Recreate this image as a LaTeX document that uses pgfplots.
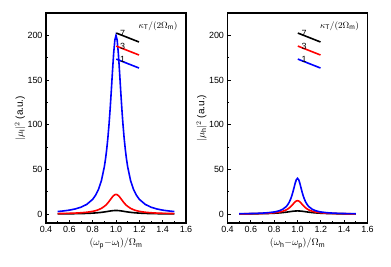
\documentclass[border=0pt]{standalone}
\usepackage{pgfplots}
\usepackage{pgfplotstable}
\usepackage{fontspec}
\setmainfont{Liberation Sans}
\newfontfamily\seriffont{Liberation Serif}
\pgfplotsset{compat=1.18}
\pgfplotstableread{
x lb lr lk rb rr rk
0.50 2.839 0.549 0.218 0.396 0.249 0.191
0.55 3.493 0.674 0.266 0.488 0.307 0.232
0.60 4.401 0.846 0.330 0.615 0.386 0.289
0.65 5.710 1.092 0.421 0.800 0.500 0.368
0.70 7.692 1.461 0.552 1.081 0.673 0.483
0.75 10.89 2.044 0.749 1.538 0.950 0.655
0.80 16.51 3.034 1.059 2.353 1.433 0.926
0.825 21.04 3.803 1.279 3.019 1.818 1.119
0.85 27.59 4.872 1.561 4.000 2.371 1.366
0.875 37.45 6.393 1.918 5.517 3.193 1.679
0.90 52.94 8.585 2.361 8.000 4.455 2.066
0.91 61.54 9.710 2.560 9.434 5.142 2.240
0.92 72.00 11.00 2.769 11.24 5.965 2.423
0.93 84.71 12.46 2.984 13.51 6.945 2.611
0.94 100.0 14.08 3.200 16.39 8.099 2.800
0.95 118.0 15.82 3.408 20.00 9.424 2.982
0.96 138.5 17.60 3.600 24.39 10.88 3.150
0.97 160.0 19.29 3.765 29.41 12.37 3.294
0.98 180.0 20.71 3.892 34.48 13.70 3.405
0.99 194.6 21.66 3.972 38.46 14.65 3.476
1.00 200.0 22.00 4.000 40.00 15.00 3.500
1.01 194.6 21.66 3.972 38.46 14.65 3.476
1.02 180.0 20.71 3.892 34.48 13.70 3.405
1.03 160.0 19.29 3.765 29.41 12.37 3.294
1.04 138.5 17.60 3.600 24.39 10.88 3.150
1.05 118.0 15.82 3.408 20.00 9.424 2.982
1.06 100.0 14.08 3.200 16.39 8.099 2.800
1.07 84.71 12.46 2.984 13.51 6.945 2.611
1.08 72.00 11.00 2.769 11.24 5.965 2.423
1.09 61.54 9.710 2.560 9.434 5.142 2.240
1.10 52.94 8.585 2.361 8.000 4.455 2.066
1.125 37.45 6.393 1.918 5.517 3.193 1.679
1.15 27.59 4.872 1.561 4.000 2.371 1.366
1.175 21.04 3.803 1.279 3.019 1.818 1.119
1.20 16.51 3.034 1.059 2.353 1.433 0.926
1.25 10.89 2.044 0.749 1.538 0.950 0.655
1.30 7.692 1.461 0.552 1.081 0.673 0.483
1.35 5.710 1.092 0.421 0.800 0.500 0.368
1.40 4.401 0.846 0.330 0.615 0.386 0.289
1.45 3.493 0.674 0.266 0.488 0.307 0.232
1.50 2.839 0.549 0.218 0.396 0.249 0.191
}\data
\definecolor{cblue}{RGB}{0,0,255}
\definecolor{cred}{RGB}{255,0,0}
\tikzset{legtxt/.style={anchor=west, inner sep=0pt, xshift=3bp, text=black, font=\fontsize{9}{10}\selectfont}}
\pgfplotsset{
  myax/.style={
    scale only axis, width=140bp, height=210bp,
    anchor=south west,
    xmin=0.4, xmax=1.6, ymin=-10, ymax=225,
    xtick={0.4,0.6,...,1.61}, ytick={0,50,100,150,200},
    minor x tick num=1, minor y tick num=1,
    xtick pos=bottom, ytick pos=left,
    tick align=inside,
    major tick length=3bp, minor tick length=1.8bp,
    every tick/.style={black, line width=0.8bp},
    axis line style={line width=1.1bp},
    /pgf/number format/assume math mode=true,
    x tick label style={/pgf/number format/.cd, fixed, fixed zerofill, precision=1},
    tick label style={font=\fontsize{9}{10}\selectfont},
    xlabel style={font=\fontsize{10}{11}\selectfont\seriffont, at={(axis description cs:0.5,0)}, anchor=north, yshift=-12bp},
    ylabel style={font=\fontsize{10}{11}\selectfont, at={(axis description cs:0,0.5)}, anchor=south, yshift=17bp},
  },
}
\newcommand{\mylegend}{%
  \draw[black, line width=1.6bp] (rel axis cs:0.664,0.862) -- ++(24bp,0) node[legtxt] {7};
  \draw[cred, line width=1.6bp] (rel axis cs:0.664,0.800) -- ++(24bp,0) node[legtxt] {3};
  \draw[cblue, line width=1.6bp] (rel axis cs:0.664,0.738) -- ++(24bp,0) node[legtxt] {1};
  \node[anchor=center, font=\fontsize{9.5}{10}\selectfont\seriffont, inner sep=0pt] at (rel axis cs:0.8,0.938) {$\kappa_{\mathrm{T}}/(2\Omega_{\mathrm{m}})$};
}
\begin{document}
\begin{tikzpicture}
\path[use as bounding box] (0,0) rectangle (391bp,267bp);
\begin{axis}[myax, at={(46bp,44bp)},
  xlabel={$(\omega_{\mathrm{p}}{-}\omega_{\mathrm{l}})/\Omega_{\mathrm{m}}$},
  ylabel={$|\mu_{\mathrm{l}}|^2$ (a.u.)}]
\addplot[color=black, line width=1.6bp] table[x=x,y=lk]{\data};
\addplot[color=cred, line width=1.6bp] table[x=x,y=lr]{\data};
\addplot[color=cblue, line width=1.6bp] table[x=x,y=lb]{\data};
\mylegend
\end{axis}
\begin{axis}[myax, at={(227.5bp,44bp)},
  xlabel={$(\omega_{\mathrm{h}}{-}\omega_{\mathrm{p}})/\Omega_{\mathrm{m}}$},
  ylabel={$|\mu_{\mathrm{h}}|^2$ (a.u.)}]
\addplot[color=black, line width=1.6bp] table[x=x,y=rk]{\data};
\addplot[color=cred, line width=1.6bp] table[x=x,y=rr]{\data};
\addplot[color=cblue, line width=1.6bp] table[x=x,y=rb]{\data};
\mylegend
\end{axis}
\end{tikzpicture}
\end{document}
